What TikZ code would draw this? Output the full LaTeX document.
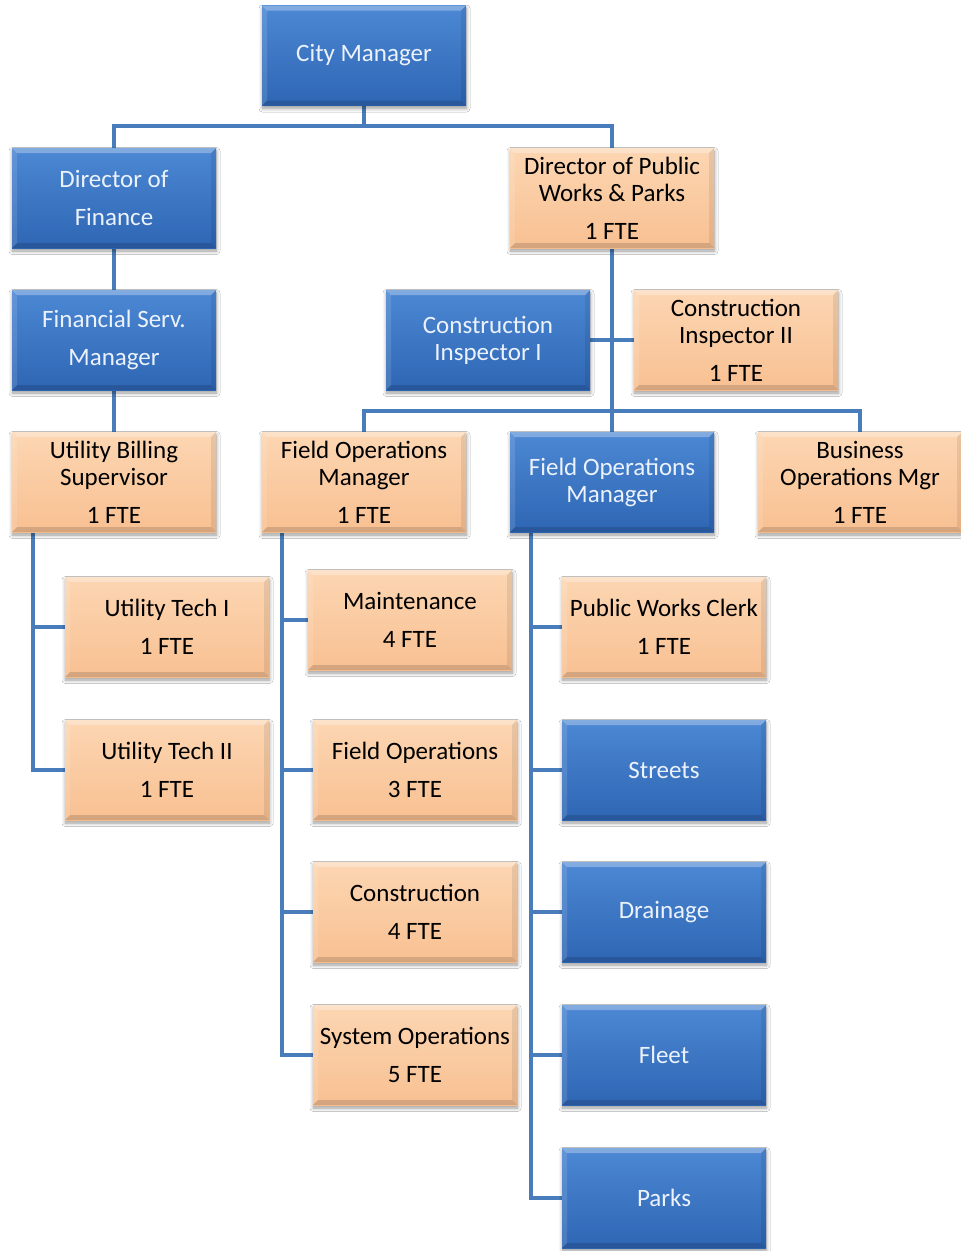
\documentclass[tikz,border=0pt]{standalone}
\usepackage{fontspec}
\setmainfont{Carlito}
\usetikzlibrary{shadows.blur,backgrounds}

\definecolor{linkblue}{RGB}{72,124,186}
\definecolor{blueTop}{RGB}{76,136,212}
\definecolor{blueBot}{RGB}{46,102,180}
\definecolor{orangeTop}{RGB}{252,214,178}
\definecolor{orangeBot}{RGB}{248,192,146}
\definecolor{paleText}{RGB}{236,242,252}

% bevelled edges of a box: lit top/left, shaded bottom/right
\newcommand\boxbevel{%
  \fill[white,opacity=0.30]
    (path picture bounding box.north west) -- (path picture bounding box.north east)
    -- ([shift={(-5pt,-5pt)}]path picture bounding box.north east)
    -- ([shift={(5pt,-5pt)}]path picture bounding box.north west) -- cycle;
  \fill[white,opacity=0.12]
    (path picture bounding box.north west) -- (path picture bounding box.south west)
    -- ([shift={(5pt,5pt)}]path picture bounding box.south west)
    -- ([shift={(5pt,-5pt)}]path picture bounding box.north west) -- cycle;
  \fill[black,opacity=0.08]
    (path picture bounding box.north east) -- (path picture bounding box.south east)
    -- ([shift={(-5pt,5pt)}]path picture bounding box.south east)
    -- ([shift={(-5pt,-5pt)}]path picture bounding box.north east) -- cycle;
  \fill[black,opacity=0.14]
    (path picture bounding box.south west) -- (path picture bounding box.south east)
    -- ([shift={(-5pt,5pt)}]path picture bounding box.south east)
    -- ([shift={(5pt,5pt)}]path picture bounding box.south west) -- cycle;
}

\tikzset{
  box/.style={rectangle, minimum width=204pt, minimum height=100pt, inner sep=0pt,
    align=center, font=\fontsize{25}{27}\selectfont,
    blur shadow={shadow xshift=0.5pt, shadow yshift=-3pt, shadow blur steps=8,
      shadow blur radius=3.5pt, shadow opacity=40},
    path picture={\boxbevel}},
  bluebox/.style={box, top color=blueTop, bottom color=blueBot, text=paleText},
  orangebox/.style={box, top color=orangeTop, bottom color=orangeBot, text=black},
  conn/.style={draw=linkblue, line width=3.5pt, line join=miter},
}

\begin{document}
\begin{tikzpicture}[x=1pt,y=-1pt]
\path[use as bounding box] (0,0) rectangle (961,1251);

% top levels
\node[bluebox]   (cm)   at (364,55.5) {City Manager};
\node[bluebox]   (dof)  at (114,198)  {Director of\\[11pt]Finance};
\node[orangebox] (dpw)  at (612,198)  {Director of Public\\Works \& Parks\\[11pt]1 FTE};
\node[bluebox]   (fsm)  at (114,340)  {Financial Serv.\\[11pt]Manager};
\node[bluebox]   (ci1)  at (488,340)  {Construction\\Inspector I};
\node[orangebox] (ci2)  at (736,340)  {Construction\\Inspector II\\[11pt]1 FTE};

% managers
\node[orangebox] (ubs)  at (114,482)  {Utility Billing\\Supervisor\\[11pt]1 FTE};
\node[orangebox] (fomA) at (364,482)  {Field Operations\\Manager\\[11pt]1 FTE};
\node[bluebox]   (fomB) at (612,482)  {Field Operations\\Manager};
\node[orangebox] (bom)  at (860,482)  {Business\\Operations Mgr\\[11pt]1 FTE};

% utility billing staff
\node[orangebox] (ut1)  at (167,627)  {Utility Tech I\\[11pt]1 FTE};
\node[orangebox] (ut2)  at (167,770)  {Utility Tech II\\[11pt]1 FTE};

% field operations staff
\node[orangebox] (mnt)  at (410,620)  {Maintenance\\[11pt]4 FTE};
\node[orangebox] (fop)  at (415,770)  {Field Operations\\[11pt]3 FTE};
\node[orangebox] (con)  at (415,912)  {Construction\\[11pt]4 FTE};
\node[orangebox] (sys)  at (415,1055) {System Operations\\[11pt]5 FTE};

% public works divisions
\node[orangebox] (pwc)  at (664,627)  {Public Works Clerk\\[11pt]1 FTE};
\node[bluebox]   (str)  at (664,770)  {Streets};
\node[bluebox]   (drn)  at (664,912)  {Drainage};
\node[bluebox]   (flt)  at (664,1055) {Fleet};
\node[bluebox]   (prk)  at (664,1198) {Parks};

\begin{scope}[on background layer]
  \fill[white] (0,0) rectangle (961,1251);
  \coordinate (busTop) at (364,126);
  \coordinate (busMid) at (612,411);
  \coordinate (spA) at (33,0);
  \coordinate (spB) at (282,0);
  \coordinate (spC) at (531,0);

  \draw[conn] (cm.south) -- (busTop);
  \draw[conn] (dof.north) |- (busTop) -| (dpw.north);
  \draw[conn] (dof.south) -- (fsm.north);
  \draw[conn] (fsm.south) -- (ubs.north);
  \draw[conn] (dpw.south) -- (fomB.north);
  \draw[conn] (ci1.east) -- (ci2.west);
  \draw[conn] (fomA.north) |- (busMid) -| (bom.north);

  \draw[conn] (ubs.south -| spA) |- (ut1.west);
  \draw[conn] (ubs.south -| spA) |- (ut2.west);

  \draw[conn] (fomA.south -| spB) |- (mnt.west);
  \draw[conn] (fomA.south -| spB) |- (fop.west);
  \draw[conn] (fomA.south -| spB) |- (con.west);
  \draw[conn] (fomA.south -| spB) |- (sys.west);

  \draw[conn] (fomB.south -| spC) |- (pwc.west);
  \draw[conn] (fomB.south -| spC) |- (str.west);
  \draw[conn] (fomB.south -| spC) |- (drn.west);
  \draw[conn] (fomB.south -| spC) |- (flt.west);
  \draw[conn] (fomB.south -| spC) |- (prk.west);
\end{scope}
\end{tikzpicture}
\end{document}
